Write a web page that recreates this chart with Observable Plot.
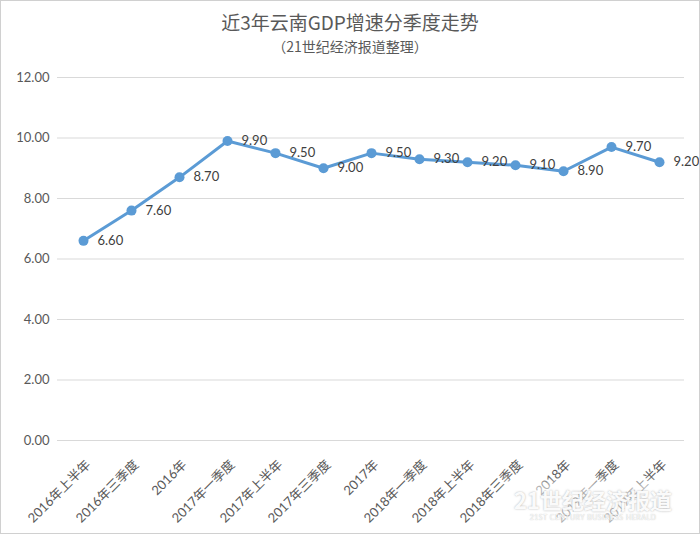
<!DOCTYPE html>
<html><head><meta charset="utf-8">
<script src="https://cdn.jsdelivr.net/npm/d3@7"></script>
<script src="https://cdn.jsdelivr.net/npm/@observablehq/plot@0.6"></script>
<style>
body{margin:0;background:#fff;}
#wrap{position:relative;width:700px;height:534px;overflow:hidden;font-family:Lato,"Noto Sans CJK SC",sans-serif;}
#title{position:absolute;left:0;width:700px;top:9px;text-align:center;font-size:19px;color:#595959;font-family:"Noto Sans CJK SC",sans-serif;line-height:26px;}
#sub{position:absolute;left:0;width:700px;top:36px;text-align:center;font-size:14px;color:#595959;font-family:"Noto Sans CJK SC",sans-serif;line-height:20px;}
#chart{position:absolute;left:0;top:60px;}
#border{position:absolute;left:0;top:0;width:698px;height:532px;border:1px solid #d0d0d0;pointer-events:none;}
#wm{position:absolute;left:510px;top:486px;width:166px;height:38px;background:rgba(255,255,255,0.55);box-shadow:0 0 8px 6px rgba(255,255,255,0.55);pointer-events:none;text-align:center;white-space:nowrap;}
#wm .big{font-family:"Noto Sans CJK SC",sans-serif;font-weight:bold;font-size:22px;line-height:27px;color:rgba(255,255,255,0.95);text-shadow:0 0 2px rgba(120,120,120,0.6);}
#wm .small{font-family:Lato,sans-serif;font-size:7px;line-height:9px;color:rgba(255,255,255,0.95);text-shadow:0 0 1px rgba(120,120,120,0.6);letter-spacing:0.5px;}
</style></head>
<body><div id="wrap">
<div id="title">近3年云南GDP增速分季度走势</div>
<div id="sub">（21世纪经济报道整理）</div>
<div id="chart"></div>
<div id="wm"><div class="big">21世纪经济报道</div><div class="small">21ST CENTURY BUSINESS HERALD</div></div>
<div id="border"></div>
</div>
<script>
const categories = ["2016年上半年","2016年三季度","2016年","2017年一季度","2017年上半年","2017年三季度","2017年","2018年一季度","2018年上半年","2018年三季度","2018年","2019年一季度","2019年上半年"];
const values = [6.6,7.6,8.7,9.9,9.5,9.0,9.5,9.3,9.2,9.1,8.9,9.7,9.2];
const yTicks = [0,2,4,6,8,10,12];

const data = categories.map((c,i)=>({c, v: values[i]}));
const fmt = d3.format(".2f");
const font = 'Lato, "Noto Sans CJK SC", sans-serif';

const plot = Plot.plot({
  width: 700,
  height: 474,
  marginTop: 17,
  marginBottom: 94,
  marginLeft: 57,
  marginRight: 16,
  style: {fontFamily: font, background: "transparent"},
  x: {type: "point", domain: categories, padding: 0.5},
  y: {domain: [0, 12]},
  marks: [
    Plot.gridY(yTicks, {stroke: "#d9d9d9", strokeOpacity: 1, strokeWidth: 1}),
    Plot.axisY(yTicks, {tickSize: 0, tickPadding: 8, tickFormat: fmt, fontSize: 13, fill: "#595959", label: null}),
    Plot.axisX({tickSize: 0, tickPadding: 22, dx: 5, tickRotate: -45, fontSize: 13, fill: "#595959", label: null}),
    Plot.line(data, {x: "c", y: "v", stroke: "#5b9bd5", strokeWidth: 3}),
    Plot.dot(data, {x: "c", y: "v", r: 5, fill: "#5b9bd5", stroke: "none"}),
    Plot.text(data, {x: "c", y: "v", text: d => fmt(d.v), dx: 14, textAnchor: "start", fontSize: 13, fill: "#404040"})
  ]
});
document.getElementById("chart").appendChild(plot);
</script>
</body></html>
